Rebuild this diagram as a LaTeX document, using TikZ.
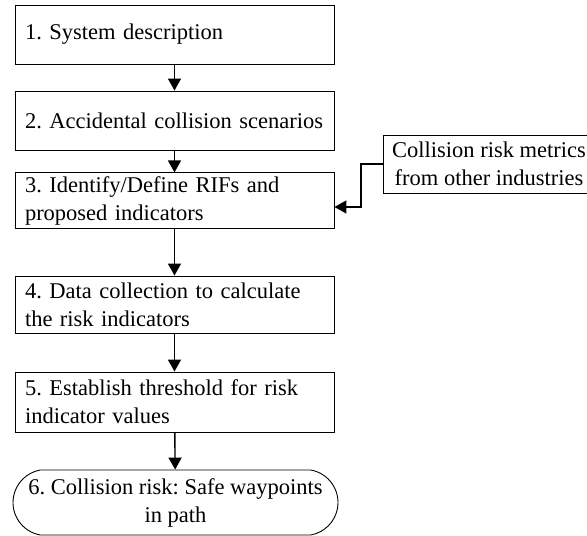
\documentclass[tikz,border=0pt]{standalone}
\usepackage{fontspec}
\setmainfont{Liberation Serif}
\usetikzlibrary{arrows.meta,shapes.misc}
\begin{document}
\frenchspacing
\begin{tikzpicture}[x=1pt,y=1pt,
  font=\fontsize{22.5}{28}\selectfont,
  stepbox/.style={draw, line width=0.9pt, minimum width=319pt, text width=299pt, inner xsep=10pt, align=left},
  sidebox/.style={draw, line width=0.9pt, minimum width=212pt, inner xsep=6pt, align=center},
  endbox/.style={draw, line width=0.9pt, rounded rectangle, rounded rectangle arc length=160, minimum width=325pt, minimum height=65pt, inner xsep=0pt, align=center},
  arr/.style={line width=1.4pt, -{Triangle[length=12pt,width=13pt]}}]
\clip (0,0) rectangle (587,536);
\node[stepbox, minimum height=59pt] (b1) at (174.5,501.5) {1. System description};
\node[stepbox, minimum height=59pt] (b2) at (174.5,415.5) {2. Accidental collision scenarios};
\node[stepbox, minimum height=55pt] (b3) at (174.5,335.5) {3. Identify/Define RIFs and\\proposed indicators};
\node[stepbox, minimum height=57pt] (b4) at (174.5,231.5) {4. Data collection to calculate\\the risk indicators};
\node[stepbox, minimum height=60pt] (b5) at (174.5,134) {5. Establish threshold for risk\\indicator values};
\node[endbox] (b6) at (175.5,33.5) {6. Collision risk: Safe waypoints\\in path};
\node[sidebox, minimum height=58pt] (side) at (489,372) {Collision risk metrics\\from other industries};
\coordinate (kink) at (361,329);
\draw[arr] (b1) -- (b2);
\draw[arr] (b2) -- (b3);
\draw[arr] (b3) -- (b4);
\draw[arr] (b4) -- (b5);
\draw[arr] (b5) -- (b6);
\draw[arr] (side.west) -| (kink) -- (kink -| b3.east);
\end{tikzpicture}
\end{document}
